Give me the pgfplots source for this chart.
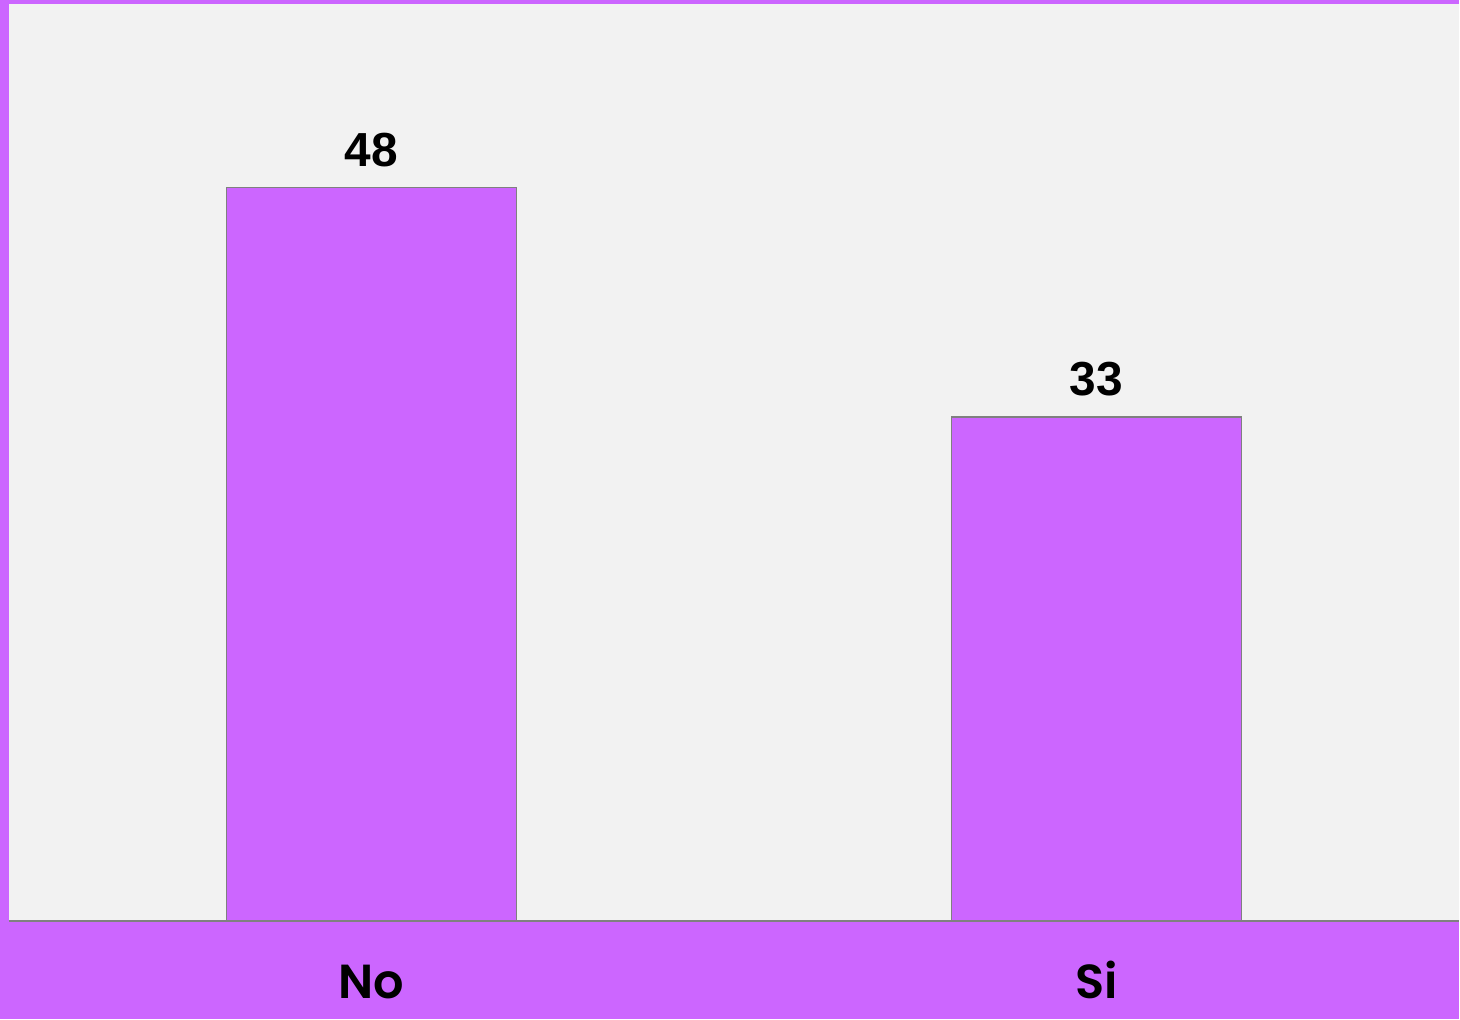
\documentclass[border=0pt]{standalone}
\usepackage{fontspec}
\setmainfont{Liberation Sans}
\newfontfamily\pop{Poppins}[UprightFont={* SemiBold}]
\usepackage{pgfplots}
\pgfplotsset{compat=1.18}
\definecolor{bgpurple}{HTML}{CC66FF}
\definecolor{plotbg}{HTML}{F2F2F2}
\definecolor{edgegray}{HTML}{808080}
\begin{document}
\begin{tikzpicture}
\fill[bgpurple] (0,0) rectangle (730bp,510bp);
\begin{axis}[
  at={(4.5bp,49bp)}, anchor=south west,
  scale only axis,
  width=725.5bp, height=459bp,
  xmin=-0.5, xmax=1.5, ymin=0, ymax=60,
  /pgf/number format/assume math mode=true,
  axis background/.style={fill=plotbg},
  axis line style={draw=none},
  axis x line*=bottom,
  xtick={0,1}, xticklabels={No,Si},
  xtick style={draw=none},
  ytick=\empty,
  xticklabel style={font=\pop\fontsize{24}{24}\selectfont, anchor=base, yshift=-34.5bp},
  ybar, bar width=145bp,
  nodes near coords,
  every node near coord/.append style={font=\bfseries\fontsize{24}{24}\selectfont, anchor=south, yshift=6.5bp},
  clip=false,
]
\addplot[fill=bgpurple, draw=edgegray, line width=0.8bp] coordinates {(0,48) (1,33)};
\draw[edgegray, line width=1bp] (axis cs:-0.5,0) -- (axis cs:1.5,0);
\end{axis}
\end{tikzpicture}
\end{document}
